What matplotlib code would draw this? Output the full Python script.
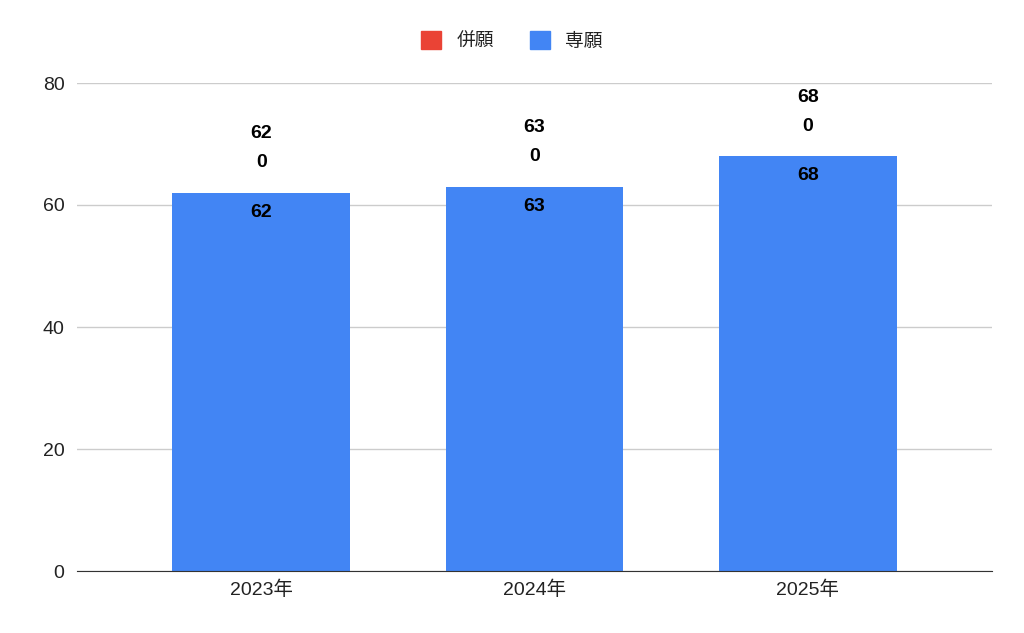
import numpy as np
import matplotlib
matplotlib.use('Agg')
import matplotlib.pyplot as plt
from matplotlib.patches import Patch

plt.rcParams['font.family'] = ['Liberation Sans', 'Noto Sans CJK JP']

# données
years = ['2023年', '2024年', '2025年']
heigan = [0, 0, 0]       # 併願
sengan = [62, 63, 68]    # 専願
totals = [a + b for a, b in zip(heigan, sengan)]

fig = plt.figure(figsize=(10.24, 6.33), dpi=100)
ax = fig.add_axes([77 / 1024, 1 - 571 / 633, (992 - 77) / 1024, (571 - 83) / 633])

x = np.arange(len(years))
w = 0.65
ax.bar(x, sengan, w, color='#4285F4', zorder=2)
ax.bar(x, heigan, w, bottom=sengan, color='#EA4335', zorder=2)

for i in range(len(years)):
    ax.annotate(str(sengan[i]), (x[i], sengan[i]), xytext=(0, -14), textcoords='offset points',
                ha='center', va='center', fontsize=14, fontweight='bold', color='#000000')
    ax.annotate(str(heigan[i]), (x[i], sengan[i] + heigan[i]), xytext=(0, 21.5), textcoords='offset points',
                ha='center', va='center', fontsize=14, fontweight='bold', color='#000000')
    ax.annotate(str(totals[i]), (x[i], totals[i]), xytext=(0, 42.5), textcoords='offset points',
                ha='center', va='center', fontsize=14, fontweight='bold', color='#000000')

ax.set_xlim(-0.674, 2.674)
ax.set_ylim(0, 80)
ax.set_yticks([0, 20, 40, 60, 80])
ax.set_xticks(x)
ax.set_xticklabels(years)
ax.tick_params(axis='both', length=0, labelsize=14, colors='#222222')
ax.tick_params(axis='y', pad=9)
ax.tick_params(axis='x', pad=7)
ax.grid(axis='y', color='#cccccc', linewidth=1, zorder=0)
for s in ['top', 'right', 'left']:
    ax.spines[s].set_visible(False)
ax.spines['bottom'].set_color('#333333')
ax.spines['bottom'].set_zorder(3)

handles = [Patch(color='#EA4335', label='併願'), Patch(color='#4285F4', label='専願')]
fig.legend(handles=handles, loc='center', bbox_to_anchor=(0.5, 1 - 41 / 633), ncol=2,
           frameon=False, handlelength=1.05, handleheight=1.05,
           handletextpad=0.85, columnspacing=1.9, labelcolor='#222222',
           prop={'family': ['Noto Sans CJK JP'], 'size': 13.5})

fig.savefig('out.png', dpi=100)
